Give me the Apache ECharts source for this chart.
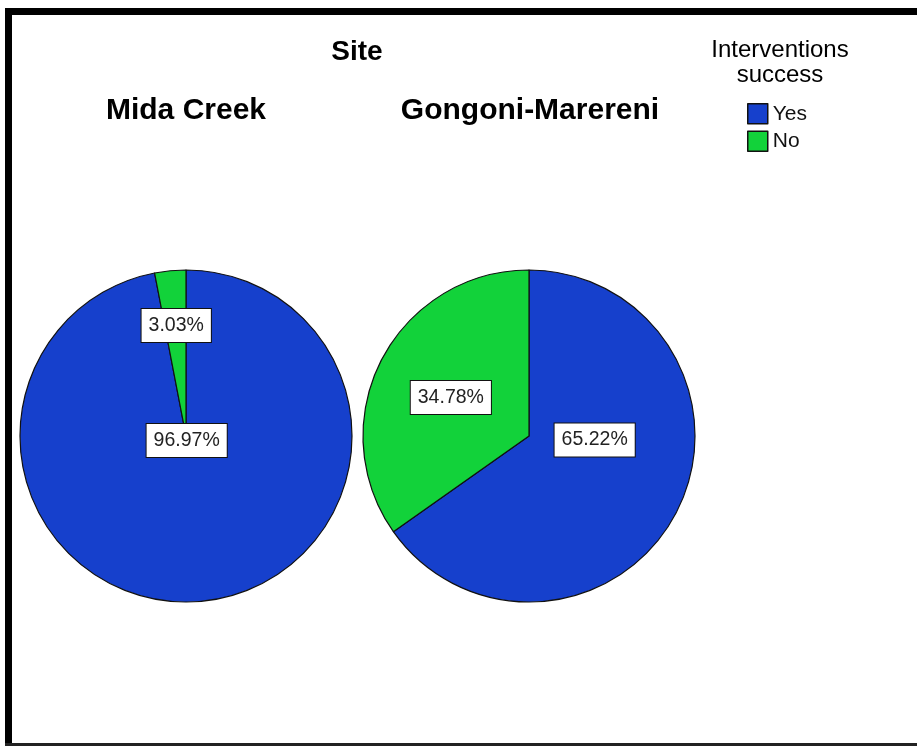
<!DOCTYPE html>
<html>
<head>
<meta charset="utf-8">
<script src="https://cdn.jsdelivr.net/npm/echarts@6/dist/echarts.min.js"></script>
<style>
  html, body { margin: 0; padding: 0; background: #fff; }
  #chart { width: 917px; height: 746px; }
</style>
</head>
<body>
<div id="chart"></div>
<script>
const sites = ["Mida Creek", "Gongoni-Marereni"];
const outcomes = ["Yes", "No"];
const yesPct = [96.97, 65.22];
const noPct = [3.03, 34.78];

const colors = { Yes: "#1640cc", No: "#12d23a" };
const font = "'Liberation Sans', Arial, sans-serif";

const myChart = echarts.init(document.getElementById("chart"));

// label nudges per pie (SPSS doesn't put them exactly at mid radius)
const nudges = [
  [[-7.5, -81], [-1.6, -25]],
  [[-10.7, -35.5], [-1.8, 1]],
];
const centers = [[186, 436], [529, 436]];

const getSeries = () =>
  sites.map((site, i) => ({
    name: site,
    type: "pie",
    center: centers[i],
    radius: 166,
    startAngle: 90,
    clockwise: true,
    silent: true,
    itemStyle: { borderColor: "#111", borderWidth: 1.2 },
    label: {
      show: true,
      position: "inside",
      formatter: (p) => p.value.toFixed(2) + "%",
      fontFamily: font,
      fontSize: 19.5,
      lineHeight: 23,
      color: "#222",
      backgroundColor: "#fff",
      borderColor: "#111",
      borderWidth: 1,
      padding: [5, 7],
    },
    labelLine: { show: false },
    labelLayout: (p) => ({ dx: nudges[i][p.dataIndex][0], dy: nudges[i][p.dataIndex][1] }),
    data: [
      { name: outcomes[0], value: yesPct[i], itemStyle: { color: colors.Yes } },
      { name: outcomes[1], value: noPct[i], itemStyle: { color: colors.No } },
    ],
  }));

const txt = (text, x, y, size, weight) => ({
  type: "text",
  x: x,
  y: y,
  style: {
    text: text,
    fill: "#000",
    font: weight + " " + size + "px " + font,
    textAlign: "center",
    textVerticalAlign: "middle",
  },
});

const options = {
  animation: false,
  backgroundColor: "#fff",
  legend: {
    orient: "vertical",
    left: 747,
    top: 103,
    padding: 0,
    itemWidth: 20,
    itemHeight: 20,
    itemGap: 6,
    icon: "rect",
    itemStyle: { borderColor: "#111", borderWidth: 1.5 },
    textStyle: { fontFamily: font, fontSize: 21, color: "#111" },
    data: outcomes,
  },
  graphic: [
    // frame
    { type: "rect", shape: { x: 5, y: 8, width: 7, height: 738 }, style: { fill: "#000" } },
    { type: "rect", shape: { x: 5, y: 8, width: 912, height: 7 }, style: { fill: "#000" } },
    { type: "rect", shape: { x: 5, y: 743, width: 912, height: 3 }, style: { fill: "#222" } },
    txt("Site", 357, 52, 28, "bold"),
    txt(sites[0], 186, 111, 30, "bold"),
    txt(sites[1], 530, 111, 30, "bold"),
    txt("Interventions", 780, 50, 24, "normal"),
    txt("success", 780, 75, 24, "normal"),
  ],
  series: getSeries(),
};

myChart.setOption(options);
</script>
</body>
</html>
